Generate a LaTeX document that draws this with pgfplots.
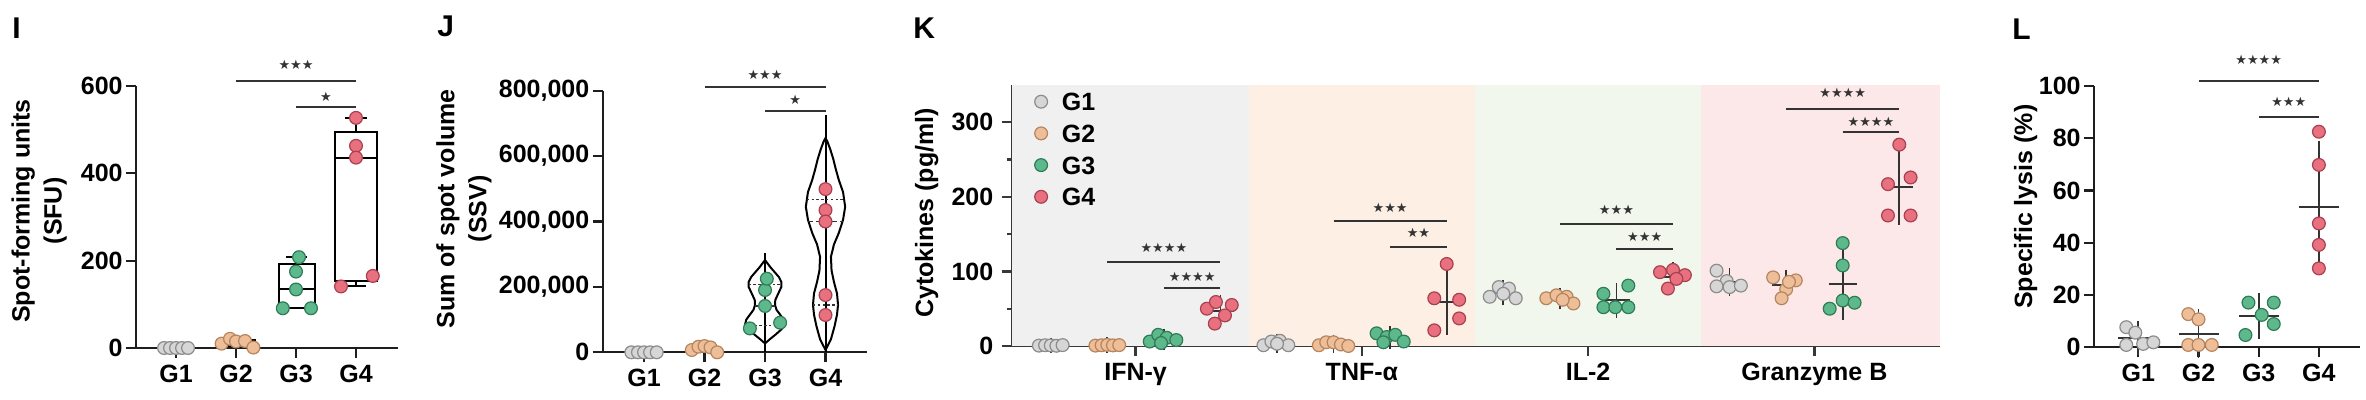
\documentclass[border=0pt]{standalone}
\usepackage{fontspec}
\setmainfont{Liberation Sans}
\newfontfamily\sym{DejaVu Sans}
\usepackage{pgfplots}
\pgfplotsset{compat=1.18}

\definecolor{g1f}{HTML}{D6D6D6}\definecolor{g1d}{HTML}{8C8C8C}
\definecolor{g2f}{HTML}{EDBE97}\definecolor{g2d}{HTML}{B5855F}
\definecolor{g3f}{HTML}{5DB98B}\definecolor{g3d}{HTML}{2E7B56}
\definecolor{g4f}{HTML}{E9707F}\definecolor{g4d}{HTML}{A8414F}
\definecolor{bgA}{HTML}{F0F0F0}\definecolor{bgB}{HTML}{FDEFE4}
\definecolor{bgC}{HTML}{F1F7EC}\definecolor{bgD}{HTML}{FCE8E8}
\definecolor{axc}{HTML}{1E1E1E}\definecolor{sigc}{HTML}{333333}
\definecolor{ebc}{HTML}{333333}

\newcommand\lbl{\fontsize{12.5}{16}\selectfont\bfseries}
\newcommand\st[1]{{\sym\fontsize{6.5}{7}\selectfont #1}}
\newcommand\panel{\fontsize{15}{18}\selectfont\bfseries}

\pgfplotsset{
  gp/.style={scale only axis, axis x line*=bottom, axis y line*=left,
    axis line style={line width=1.1pt, draw=axc},
    tick style={line width=1.1pt, draw=axc},
    major tick length=5pt, minor tick length=2.5pt, tick align=outside,
    clip=false, ymin=0,
    tick label style={font=\lbl}, label style={font=\lbl},
    /pgf/number format/assume math mode=true,
    xtick={1,2,3,4}, xticklabels={G1,G2,G3,G4},
    yticklabel style={inner xsep=1.5pt},
  },
  pG1/.style={only marks, mark=*, mark size=3.2pt, mark options={fill=g1f, draw=g1d, line width=0.6pt}},
  pG2/.style={only marks, mark=*, mark size=3.2pt, mark options={fill=g2f, draw=g2d, line width=0.6pt}},
  pG3/.style={only marks, mark=*, mark size=3.2pt, mark options={fill=g3f, draw=g3d, line width=0.6pt}},
  pG4/.style={only marks, mark=*, mark size=3.2pt, mark options={fill=g4f, draw=g4d, line width=0.6pt}},
  sig/.style={draw=sigc, line width=1pt, forget plot},
  violin/.style={draw=black, line width=1pt, forget plot},
  qline/.style={draw=sigc, line width=0.7pt, dash pattern=on 1.2pt off 1.2pt, forget plot},
  mline/.style={draw=sigc, line width=0.8pt, dash pattern=on 2.5pt off 1.5pt, forget plot},
  ebar/.style n args={2}{only marks, mark=-, mark size=#1, mark options={line width=1pt, draw=ebc}, forget plot,
    error bars/.cd, y dir=both, y explicit, error mark=-,
    error bar style={line width=0.9pt, draw=ebc},
    error mark options={mark size=#2, line width=0.9pt, draw=ebc}},
  bx/.style={draw=black, line width=1pt, forget plot},
}

\begin{document}
\begin{tikzpicture}
\useasboundingbox (0,0) rectangle (1183pt,200pt);

\node[anchor=north west, inner sep=0pt, font=\panel] at (6pt,191.5pt) {I};
\node[anchor=north west, inner sep=0pt, font=\panel] at (218.5pt,192.5pt) {J};
\node[anchor=north west, inner sep=0pt, font=\panel] at (456.5pt,191.5pt) {K};
\node[anchor=north west, inner sep=0pt, font=\panel] at (1006pt,191pt) {L};

% ---------------- Panel I ----------------
\begin{axis}[gp, at={(68pt,26pt)}, anchor=south west, width=131pt, height=131pt,
  xmin=0.333, xmax=4.7, ymax=600, ytick={0,200,400,600},
  ylabel={Spot-forming units\\(SFU)},
  ylabel style={align=center, at={(axis description cs:-0.370,0.523)}, anchor=center}]
\addplot[sig] coordinates {(2,612) (4,612)};
\addplot[sig] coordinates {(3,552.6) (4,552.6)};
\addplot[pG1] coordinates {(0.8,0) (0.9,0) (1.0,0) (1.1,0) (1.2,0)};
\addplot[pG2] coordinates {(1.76,10) (1.9,21) (2.0,15) (2.15,16) (2.29,1)};
\addplot[pG3] coordinates {(3.05,208) (3.0,175) (3.0,134) (2.78,91) (3.25,91)};
\addplot[pG4] coordinates {(4,527) (4,463) (4,436) (3.75,141) (4.28,165)};
% box plots
\addplot[bx] coordinates {(1.69,5.5) (2.31,5.5) (2.31,18.5) (1.69,18.5)} -- cycle;
\addplot[bx] coordinates {(1.69,15) (2.31,15)};
\addplot[bx] coordinates {(2.71,91) (3.32,91) (3.32,191.5) (2.71,191.5)} -- cycle;
\addplot[bx] coordinates {(2.71,134) (3.32,134)};
\addplot[bx] coordinates {(3.015,191.5) (3.015,208)};
\addplot[bx] coordinates {(2.84,208) (3.19,208)};
\addplot[bx] coordinates {(3.65,153) (4.35,153) (4.35,495) (3.65,495)} -- cycle;
\addplot[bx] coordinates {(3.65,436) (4.35,436)};
\addplot[bx] coordinates {(4,495) (4,527)};
\addplot[bx] coordinates {(3.81,527) (4.19,527)};
\addplot[bx] coordinates {(4,153) (4,141)};
\addplot[bx] coordinates {(3.78,141) (4.17,141)};
\node[text=sigc, inner sep=0pt] at (axis cs:3,648) {\st{★★★}};
\node[text=sigc, inner sep=0pt] at (axis cs:3.5,575.5) {\st{★}};
\end{axis}

% ---------------- Panel J ----------------
\begin{axis}[gp, at={(301.35pt,23.85pt)}, anchor=south west, width=132.15pt, height=130.8pt,
  xmin=0.317, xmax=4.686, ymax=800000, scaled y ticks=false,
  ytick={0,200000,400000,600000,800000},
  yticklabels={0,{200,000},{400,000},{600,000},{800,000}},
  ylabel={Sum of spot volume\\(SSV)},
  ylabel style={align=center, at={(axis description cs:-0.525,0.548)}, anchor=center}]
\addplot[sig] coordinates {(2,810000) (4,810000)};
\addplot[sig] coordinates {(3,738000) (4,738000)};
\addplot[violin] coordinates {(3,0) (3,305000)};
\addplot[violin] coordinates {(3,27000) (3.08,40000) (3.18,55000) (3.27,70000) (3.33,85000) (3.31,100000) (3.25,115000) (3.19,130000) (3.165,145000) (3.17,160000) (3.22,180000) (3.27,200000) (3.27,215000) (3.23,230000) (3.16,245000) (3.09,260000) (3,282000)
 (2.91,260000) (2.84,245000) (2.77,230000) (2.73,215000) (2.73,200000) (2.78,180000) (2.83,160000) (2.835,145000) (2.81,130000) (2.75,115000) (2.69,100000) (2.67,85000) (2.73,70000) (2.82,55000) (2.92,40000)} -- cycle;
\addplot[violin] coordinates {(4,0) (4,726000)};
\addplot[violin] coordinates {(4,7000) (4.09,40000) (4.15,80000) (4.19,115000) (4.207,145000) (4.19,180000) (4.14,215000) (4.10,250000) (4.09,292000) (4.14,330000) (4.22,365000) (4.29,405000) (4.325,445000) (4.29,490000) (4.22,527000) (4.17,560000) (4.13,590000) (4.08,620000) (4.03,645000) (4,655000)
 (3.97,645000) (3.92,620000) (3.87,590000) (3.83,560000) (3.78,527000) (3.71,490000) (3.675,445000) (3.71,405000) (3.78,365000) (3.86,330000) (3.91,292000) (3.90,250000) (3.86,215000) (3.81,180000) (3.793,145000) (3.81,115000) (3.85,80000) (3.91,40000)} -- cycle;
\addplot[violin, line width=0.8pt] coordinates {(2,0) (2,24000)};
\addplot[qline] coordinates {(2.67,82000) (3.33,82000)};
\addplot[mline] coordinates {(2.83,141600) (3.17,141600)};
\addplot[qline] coordinates {(2.73,207750) (3.27,207750)};
\addplot[qline] coordinates {(3.793,144500) (4.207,144500)};
\addplot[mline] coordinates {(3.715,400000) (4.285,400000)};
\addplot[qline] coordinates {(3.69,467000) (4.31,467000)};
\addplot[pG1] coordinates {(0.79,0) (0.9,0) (1.0,0) (1.1,0) (1.21,0)};
\addplot[pG2] coordinates {(1.79,7000) (1.9,17000) (2.0,19000) (2.1,15000) (2.21,0)};
\addplot[pG3] coordinates {(2.75,73000) (3.25,90500) (3.0,141600) (3.0,190500) (3.03,225000)};
\addplot[pG4] coordinates {(4,499000) (4,435000) (4,400000) (4,175000) (4,114000)};
\node[text=sigc, inner sep=0pt] at (axis cs:3,848000) {\st{★★★}};
\node[text=sigc, inner sep=0pt] at (axis cs:3.5,771000) {\st{★}};
\end{axis}

% ---------------- Panel K ----------------
\begin{axis}[gp, at={(505.85pt,27pt)}, anchor=south west, width=464.15pt, height=130.5pt,
  xmin=0.31, xmax=16.72, ymax=350, ytick={0,100,200,300}, minor ytick={50,150,250},
  xtick={2.5,6.5,10.5,14.5}, xticklabels={IFN-γ,TNF-α,IL-2,Granzyme B},
  yticklabel style={inner xsep=4pt},
  axis line style={line width=1.1pt, draw=black!78},
  tick style={line width=1.1pt, draw=black!78},
  ylabel={Cytokines (pg/ml)},
  ylabel style={at={(axis description cs:-0.0916,0.51)}, anchor=center},
  legend style={at={(axis description cs:0.0248,0.9705)}, anchor=north west, draw=none, fill=none,
    inner sep=0pt, outer sep=0pt, row sep=6.85pt, column sep=7.15pt, font=\lbl,
    nodes={inner sep=0pt, text height=9pt, text depth=0pt}},
  legend cell align=left,
  legend image code/.code={\draw[#1] plot coordinates {(0pt,0pt)};}]
\addplot[fill=bgA, draw=none, forget plot] coordinates {(0.31,0) (4.5,0) (4.5,350) (0.31,350)} -- cycle;
\addplot[fill=bgB, draw=none, forget plot] coordinates {(4.5,0) (8.5,0) (8.5,350) (4.5,350)} -- cycle;
\addplot[fill=bgC, draw=none, forget plot] coordinates {(8.5,0) (12.5,0) (12.5,350) (8.5,350)} -- cycle;
\addplot[fill=bgD, draw=none, forget plot] coordinates {(12.5,0) (16.72,0) (16.72,350) (12.5,350)} -- cycle;
\addplot[sig] coordinates {(2,113) (4,113)};
\addplot[sig] coordinates {(3,77.4) (4,77.4)};
\addplot[sig] coordinates {(6,167.6) (8,167.6)};
\addplot[sig] coordinates {(7,133) (8,133)};
\addplot[sig] coordinates {(10,163.6) (12,163.6)};
\addplot[sig] coordinates {(11,129.7) (12,129.7)};
\addplot[sig] coordinates {(14,317.8) (16,317.8)};
\addplot[sig] coordinates {(15,286.6) (16,286.6)};
\addplot[ebar={7pt}{3.75pt}] coordinates {
 (1,0.76) +- (0,0.36) (2,1.0) +- (0,0.38) (3,8.8) +- (0,4.32) (4,47) +- (0,11.64)
 (5,3.6) +- (0,2.79) (6,2.6) +- (0,2.30) (7,11) +- (0,5.34) (8,58.8) +- (0,33.77)
 (9,71.2) +- (0,6.61) (10,63.4) +- (0,4.22) (11,61.4) +- (0,13.45) (12,92.6) +- (0,9.81)
 (13,85.6) +- (0,9.15) (14,81.2) +- (0,11.28) (15,83) +- (0,38.24) (16,212.6) +- (0,39.76)};
\addplot[pG1] coordinates {(0.79,0.5) (0.9,1) (1.0,0.8) (1.1,0.3) (1.21,1.2)
 (4.76,1) (4.9,6) (5.05,7) (5.2,1) (5.0,3)
 (8.76,66) (8.92,79) (9.1,77) (9.22,64) (9.0,70)
 (12.77,101) (12.95,87) (12.77,80) (13.0,79) (13.2,81)};
\addlegendentry{G1}
\addplot[pG2] coordinates {(1.79,0.5) (1.9,1) (2.0,1.5) (2.1,0.8) (2.21,1.2)
 (5.74,1) (5.87,5) (6.0,5) (6.13,2) (6.26,0)
 (9.76,64) (9.94,68) (10.12,66) (10.24,57) (10.05,62)
 (13.77,92) (14.17,88) (14.0,76) (13.92,64) (14.05,86)};
\addlegendentry{G2}
\addplot[pG3] coordinates {(2.75,6) (2.9,15) (3.05,11) (3.22,8) (2.95,4)
 (6.76,17) (6.94,12) (7.09,15) (7.24,6) (6.88,5)
 (10.77,70) (11.21,81) (10.77,52) (10.98,52) (11.21,52)
 (15,138) (15,108) (14.77,50) (15.0,61) (15.21,58)};
\addlegendentry{G3}
\addplot[pG4] coordinates {(3.76,50) (3.92,59) (4.2,55) (4.08,41) (3.9,30)
 (8,110) (7.78,64) (8.22,62) (8.22,37) (7.78,21)
 (11.77,99) (12.0,102) (12.21,95) (12.06,90) (11.91,77)
 (16,270) (15.8,217) (16.2,226) (15.8,175) (16.2,175)};
\addlegendentry{G4}
\node[text=sigc, inner sep=0pt] at (axis cs:3,131) {\st{★★★★}};
\node[text=sigc, inner sep=0pt] at (axis cs:3.5,93) {\st{★★★★}};
\node[text=sigc, inner sep=0pt] at (axis cs:7,184.7) {\st{★★★}};
\node[text=sigc, inner sep=0pt] at (axis cs:7.5,152) {\st{★★}};
\node[text=sigc, inner sep=0pt] at (axis cs:11,182.4) {\st{★★★}};
\node[text=sigc, inner sep=0pt] at (axis cs:11.5,146.6) {\st{★★★}};
\node[text=sigc, inner sep=0pt] at (axis cs:15,338.9) {\st{★★★★}};
\node[text=sigc, inner sep=0pt] at (axis cs:15.5,300.8) {\st{★★★★}};
\end{axis}

% ---------------- Panel L ----------------
\begin{axis}[gp, at={(1047pt,26.35pt)}, anchor=south west, width=133pt, height=130.65pt,
  xmin=0.264, xmax=4.683, ymax=100, ytick={0,20,40,60,80,100},
  ylabel={Specific lysis (\%)},
  ylabel style={at={(axis description cs:-0.2566,0.538)}, anchor=center}]
\addplot[sig] coordinates {(2,102) (4,102)};
\addplot[sig] coordinates {(3,88.3) (4,88.3)};
\addplot[ebar={10pt}{4.5pt}] coordinates {(1,3.48) +- (0,3.01) (2,5.22) +- (0,5.96) (3,12.04) +- (0,5.36) (4,53.82) +- (0,21.74)};
\addplot[pG1] coordinates {(0.8,7.7) (0.95,5.6) (0.8,0.9) (1.08,1.3) (1.25,1.9)};
\addplot[pG2] coordinates {(1.83,12.7) (2.0,10.7) (1.83,0.9) (2.0,0.9) (2.22,0.9)};
\addplot[pG3] coordinates {(2.83,17.1) (3.25,17.1) (3.05,12.4) (3.25,8.9) (2.78,4.7)};
\addplot[pG4] coordinates {(4,82.5) (4,69.8) (4,47.4) (4,39.2) (4,30.2)};
\node[text=sigc, inner sep=0pt] at (axis cs:3,110) {\st{★★★★}};
\node[text=sigc, inner sep=0pt] at (axis cs:3.5,94) {\st{★★★}};
\end{axis}
\end{tikzpicture}
\end{document}
